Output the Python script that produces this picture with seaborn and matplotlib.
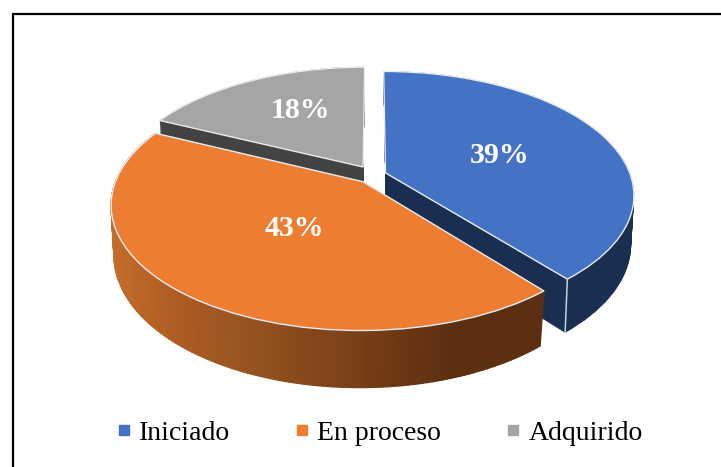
import numpy as np
import seaborn as sns
import matplotlib
matplotlib.use("Agg")
import matplotlib.pyplot as plt
from matplotlib.colors import LinearSegmentedColormap
from matplotlib.lines import Line2D
from matplotlib.transforms import Transform

# Chart data
categories = ['Iniciado', 'En proceso', 'Adquirido']
shares = [39, 43, 18]

top_colors = ['#4472C4', '#ED7D31', '#A5A5A5']
side_colors = ['#1A2E52', '#5C2F10', '#434343']
orange_wall = ['#C8702C', '#B05E24', '#93521F', '#7A4018', '#5C2F10', '#5C2F10']

WIDTH, HEIGHT = 721, 467
APEX_X, APEX_Y = 373.5, 175     # pie centre on the picture, px
DEPTH = 0.375                   # extrusion, in pie radii
SHRINK = 0.08                   # bottom of the pie is this much narrower
EXPLODE = [0.052, 0.07, 0.08]
SCALE_X, SCALE_Y, PERSP = 245, 120, 0.176


class Perspective(Transform):
    '''Tilts the flat pie: the back gets smaller than the front.'''
    input_dims = output_dims = 2

    def transform_non_affine(self, values):
        values = np.asarray(values, float)
        w = 1 + PERSP * values[:, 1]
        return np.column_stack([SCALE_X * values[:, 0] / w, SCALE_Y * values[:, 1] / w])


sns.set_theme(style="white")
plt.rcParams['font.family'] = ['Liberation Serif', 'DejaVu Serif']

fig = plt.figure(figsize=(WIDTH / 100, HEIGHT / 100), dpi=100)
ax = fig.add_axes([0, 0, 1, 1])
tilt = Perspective() + ax.transData


def draw_layer(index, offset, radius, color, edge=None):
    wedges, _ = ax.pie(shares, explode=EXPLODE, startangle=90, counterclock=False,
                       radius=radius, center=(0, -offset),
                       colors=[color] * 3, frame=True,
                       wedgeprops=dict(edgecolor=edge or color, linewidth=1.0 if edge else 0.4))
    for j, w in enumerate(wedges):
        w.set_visible(j == index)
        w.set_transform(tilt)
    return wedges[index]


def extrude(index):
    for off in np.linspace(DEPTH, 0, 40):
        r = 1 - SHRINK * off / DEPTH
        draw_layer(index, off, r, side_colors[index])


def top(index):
    return draw_layer(index, 0, 1, top_colors[index], edge='#E8ECF2')


# gray goes first, then blue, orange sits in front of them
extrude(2)
top(2)

extrude(0)
blue = top(0)
# light seam down the corner of the blue slice
t = np.deg2rad(blue.theta1)
cx, cy = blue.center
r_low = 1 - SHRINK
ax.plot([cx + np.cos(t), cx + r_low * np.cos(t)],
        [cy + np.sin(t), cy + r_low * np.sin(t) - DEPTH],
        color='#C9D0DC', lw=1.1, transform=tilt)

# orange outer wall with a horizontal gradient
cmap = LinearSegmentedColormap.from_list('wall', orange_wall)
probe = draw_layer(1, 0, 1, top_colors[1])
cx, cy = probe.center
thetas = np.deg2rad(np.linspace(probe.theta1, probe.theta2, 160))
x_left, x_right = cx - 1, cx + np.cos(thetas[-1])
for t0, t1 in zip(thetas[:-1], thetas[1:]):
    xs = cx + np.cos([t0, t1])
    ys = cy + np.sin([t0, t1])
    tone = (xs.mean() - x_left) / (x_right - x_left)
    xb = cx + r_low * np.cos([t1, t0])
    yb = cy + r_low * np.sin([t1, t0]) - DEPTH
    col = cmap(np.clip(tone, 0, 1))
    ax.fill(np.r_[xs, xb], np.r_[ys, yb], facecolor=col, edgecolor=col, lw=1.0, transform=tilt)
top(1)

ax.set_aspect('auto')
ax.set_xlim(-APEX_X, WIDTH - APEX_X)
ax.set_ylim(-(HEIGHT - APEX_Y), APEX_Y)
ax.axis('off')

# percent labels
label_pos = [(500, 155), (294, 229), (300, 110)]
for share, (px, py) in zip(shares, label_pos):
    fig.text(px / WIDTH, 1 - py / HEIGHT, f'{share}%', color='white', fontsize=21.5,
             fontweight='bold', ha='center', va='center')

handles = [Line2D([], [], linestyle='none', marker='s', markersize=7, color=c) for c in top_colors]
fig.legend(handles, categories, ncol=3, frameon=False, fontsize=20, loc='center',
           bbox_to_anchor=(380 / WIDTH, 1 - 433 / HEIGHT), handlelength=0.5,
           handletextpad=0.29, columnspacing=2.34, labelcolor='black')

# frame of the original picture, only top and left show up
fig.add_artist(Line2D([12.5 / WIDTH, 12.5 / WIDTH], [0, 1 - 13.5 / HEIGHT], color='black', lw=1.6))
fig.add_artist(Line2D([12.5 / WIDTH, 1], [1 - 13.5 / HEIGHT, 1 - 13.5 / HEIGHT], color='black', lw=1.6))

fig.savefig('out.png', dpi=100)
